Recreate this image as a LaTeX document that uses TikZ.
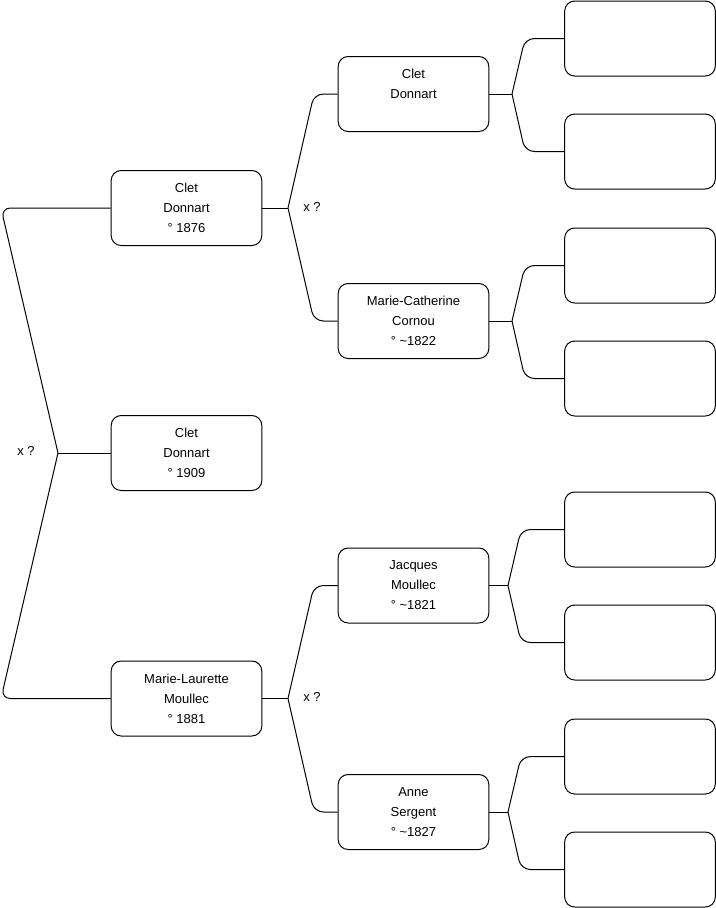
\documentclass[tikz,border=0pt]{standalone}
\usepackage{fontspec}
\setmainfont{Liberation Sans}
\begin{document}
\begin{tikzpicture}[x=0.75pt,y=-0.75pt,
  person/.style={draw=black, line width=0.75pt, rounded corners=7.5pt, minimum width=113pt, minimum height=56.25pt, inner sep=0pt, align=center, font=\fontsize{9.75}{15}\selectfont},
  conn/.style={draw=black, line width=0.75pt},
  bracketline/.style={conn, rounded corners=7pt},
  lbl/.style={font=\fontsize{9.75}{11}\selectfont, inner sep=0pt}]
\useasboundingbox (0,0) rectangle (716,908);
% generation 1
\node[person] (g1) at (186.5,453) {Clet\\Donnart\\° 1909};
% generation 2
\node[person] (a) at (186.5,208) {Clet\\Donnart\\° 1876};
\node[person] (b) at (186.5,698.5) {Marie-Laurette\\Moullec\\° 1881};
% generation 3
\node[person] (aa) at (413.5,94) {Clet\\Donnart\\\mbox{}};
\node[person] (ab) at (413.5,321) {Marie-Catherine\\Cornou\\° \textasciitilde1822};
\node[person] (ba) at (413.5,585.5) {Jacques\\Moullec\\° \textasciitilde1821};
\node[person] (bb) at (413.5,812) {Anne\\Sergent\\° \textasciitilde1827};
% generation 4
\node[person] (aaa) at (640,38.5) {};
\node[person] (aab) at (640,151.5) {};
\node[person] (aba) at (640,265.5) {};
\node[person] (abb) at (640,378.5) {};
\node[person] (baa) at (640,529.5) {};
\node[person] (bab) at (640,642.5) {};
\node[person] (bba) at (640,756.5) {};
\node[person] (bbb) at (640,869.5) {};
% junctions
\coordinate (j0) at (58,453);
\coordinate (ja) at (288,208);
\coordinate (jb) at (288,698.5);
\coordinate (jaa) at (512,94);
\coordinate (jab) at (512,321);
\coordinate (jba) at (508,585.5);
\coordinate (jbb) at (508,812);
% connectors generation 1
\draw[conn] (g1.west) -- (j0);
\draw[bracketline] (j0) -- (1,208) -- (a.west);
\draw[bracketline] (j0) -- (1,698.5) -- (b.west);
\node[lbl] (x0) at (26,451) {x ?};
% connectors generation 2
\draw[conn] (a.east) -- (ja);
\draw[bracketline] (ja) -- (314,94) -- (aa.west);
\draw[bracketline] (ja) -- (314,321) -- (ab.west);
\node[lbl] (xa) at (312,207) {x ?};
\draw[conn] (b.east) -- (jb);
\draw[bracketline] (jb) -- (314,585.5) -- (ba.west);
\draw[bracketline] (jb) -- (314,812) -- (bb.west);
\node[lbl] (xb) at (312,697) {x ?};
% connectors generation 3
\draw[conn] (aa.east) -- (jaa);
\draw[bracketline] (jaa) -- (525,38.5) -- (aaa.west);
\draw[bracketline] (jaa) -- (525,151.5) -- (aab.west);
\draw[conn] (ab.east) -- (jab);
\draw[bracketline] (jab) -- (525,265.5) -- (aba.west);
\draw[bracketline] (jab) -- (525,378.5) -- (abb.west);
\draw[conn] (ba.east) -- (jba);
\draw[bracketline] (jba) -- (521,529.5) -- (baa.west);
\draw[bracketline] (jba) -- (521,642.5) -- (bab.west);
\draw[conn] (bb.east) -- (jbb);
\draw[bracketline] (jbb) -- (521,756.5) -- (bba.west);
\draw[bracketline] (jbb) -- (521,869.5) -- (bbb.west);
\end{tikzpicture}
\end{document}
